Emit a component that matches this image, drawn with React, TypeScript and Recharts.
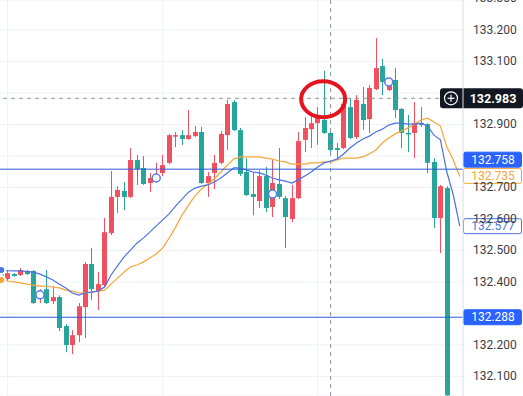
import React from "react";
import {
  ComposedChart,
  Bar,
  Line,
  XAxis,
  YAxis,
  CartesianGrid,
  ReferenceLine,
  ReferenceDot,
} from "recharts";

// candle prices, one per bar (last two bars are off-screen)
const opens = [
  132.431, 132.409, 132.425, 132.422, 132.435, 132.435, 132.352, 132.377, 132.339, 132.352,
  132.26, 132.2, 132.231, 132.32, 132.457, 132.371, 132.39, 132.555, 132.67, 132.689,
  132.67, 132.787, 132.762, 132.714, 132.724, 132.746, 132.778, 132.863, 132.866, 132.854,
  132.863, 132.876, 132.714, 132.746, 132.778, 132.866, 132.971, 132.882, 132.749, 132.679,
  132.657, 132.736, 132.638, 132.711, 132.666, 132.6, 132.666, 132.851, 132.885, 132.904,
  132.914, 132.873, 132.825, 132.825, 132.955, 132.86, 132.965, 132.917, 133.012, 133.085,
  133.009, 133.041, 132.949, 132.873, 132.873, 132.904, 132.901, 132.781, 132.603, 132.698,
  null, null,
];
const highs = [
  132.438, 132.435, 132.428, 132.444, 132.438, 132.438, 132.377, 132.438, 132.387, 132.358,
  132.266, 132.247, 132.333, 132.463, 132.508, 132.431, 132.603, 132.752, 132.704, 132.717,
  132.825, 132.803, 132.8, 132.746, 132.778, 132.803, 132.87, 132.876, 132.882, 132.946,
  132.895, 132.892, 132.749, 132.803, 132.879, 132.978, 132.978, 132.889, 132.793, 132.749,
  132.755, 132.765, 132.787, 132.825, 132.673, 132.708, 132.876, 132.924, 132.936, 132.955,
  133.07, 132.876, 132.841, 132.971, 132.984, 132.993, 133.019, 133.025, 133.174, 133.108,
  133.035, 133.079, 132.952, 132.93, 132.971, 132.955, 132.904, 132.793, 132.708, 132.704,
  null, null,
];
const lows = [
  132.39, 132.403, 132.416, 132.419, 132.422, 132.33, 132.333, 132.33, 132.33, 132.244,
  132.177, 132.171, 132.209, 132.222, 132.343, 132.311, 132.384, 132.549, 132.619, 132.628,
  132.666, 132.708, 132.708, 132.685, 132.717, 132.736, 132.774, 132.828, 132.835, 132.851,
  132.86, 132.711, 132.67, 132.695, 132.774, 132.819, 132.879, 132.736, 132.673, 132.612,
  132.635, 132.622, 132.606, 132.663, 132.508, 132.59, 132.663, 132.812, 132.825, 132.835,
  132.87, 132.803, 132.793, 132.822, 132.854, 132.854, 132.883, 132.873, 133.009, 132.993,
  133.006, 132.92, 132.825, 132.812, 132.793, 132.892, 132.746, 132.571, 132.492, 132.039,
  null, null,
];
const closes = [
  132.397, 132.428, 132.419, 132.438, 132.425, 132.333, 132.365, 132.333, 132.352, 132.254,
  132.2, 132.231, 132.323, 132.457, 132.377, 132.393, 132.558, 132.67, 132.692, 132.67,
  132.787, 132.758, 132.711, 132.73, 132.736, 132.771, 132.866, 132.866, 132.854, 132.866,
  132.876, 132.714, 132.736, 132.778, 132.87, 132.965, 132.882, 132.743, 132.676, 132.67,
  132.736, 132.635, 132.714, 132.67, 132.606, 132.666, 132.847, 132.889, 132.904, 132.924,
  132.873, 132.819, 132.819, 132.965, 132.857, 132.978, 132.914, 133.016, 133.079, 133.035,
  133.028, 132.946, 132.873, 132.87, 132.904, 132.898, 132.778, 132.603, 132.704, 132.04,
  null, null,
];

// moving averages
const maFast = [
  132.438, 132.436, 132.435, 132.435, 132.433, 132.431, 132.425, 132.416, 132.406, 132.393,
  132.381, 132.365, 132.358, 132.365, 132.368, 132.371, 132.384, 132.422, 132.451, 132.479,
  132.501, 132.523, 132.539, 132.558, 132.578, 132.597, 132.616, 132.641, 132.663, 132.685,
  132.698, 132.704, 132.708, 132.717, 132.73, 132.746, 132.762, 132.762, 132.755, 132.749,
  132.746, 132.739, 132.73, 132.724, 132.72, 132.714, 132.724, 132.736, 132.749, 132.765,
  132.778, 132.784, 132.79, 132.806, 132.825, 132.841, 132.854, 132.863, 132.876, 132.885,
  132.898, 132.904, 132.904, 132.901, 132.901, 132.904, 132.895, 132.866, 132.851, 132.749,
  132.676, 132.577,
];
const maSlow = [
  132.406, 132.403, 132.4, 132.397, 132.393, 132.39, 132.387, 132.387, 132.384, 132.381,
  132.374, 132.371, 132.365, 132.365, 132.368, 132.371, 132.374, 132.393, 132.412, 132.431,
  132.447, 132.454, 132.463, 132.476, 132.489, 132.508, 132.539, 132.574, 132.612, 132.644,
  132.673, 132.695, 132.711, 132.727, 132.749, 132.771, 132.79, 132.797, 132.797, 132.797,
  132.797, 132.793, 132.79, 132.784, 132.781, 132.774, 132.774, 132.774, 132.778, 132.778,
  132.781, 132.781, 132.787, 132.793, 132.793, 132.793, 132.797, 132.806, 132.819, 132.841,
  132.857, 132.87, 132.879, 132.889, 132.901, 132.914, 132.92, 132.908, 132.895, 132.828,
  132.787, 132.735,
];

const priceTicks = [132.1, 132.2, 132.3, 132.4, 132.5, 132.6, 132.7, 132.8, 132.9, 133.0, 133.1, 133.2, 133.3];
const coveredTicks = [132.3, 132.8, 133.0];

const hLines = [132.758, 132.288];
const crossPrice = 132.983;
const crossBar = 51;
const circledBar = 50;

const markBars = [6, 24, 42, 60];
const markPrices = [132.359, 132.73, 132.679, 133.035];

const UP = "#EF5160";
const DOWN = "#26A69A";
const BLUE = "#2F5BD6";
const FAST = "#4C72E6";
const SLOW = "#F5A63A";
const FONT = "Roboto, 'Liberation Sans', sans-serif";

const data = opens.map((o, i) => ({
  i,
  open: o,
  high: highs[i],
  low: lows[i],
  close: closes[i],
  fast: maFast[i],
  slow: maSlow[i],
}));

const Candle = (props: any) => {
  const { x, y, width, height, payload } = props;
  if (payload == null || payload.high == null) return null;
  const top = Math.min(y, y + height);
  const h = Math.abs(height);
  const span = payload.high - payload.low || 1;
  const toY = (v: number) => top + ((payload.high - v) / span) * h;
  const up = payload.close >= payload.open;
  const color = up ? UP : DOWN;
  const cx = Math.round(x + width / 2);
  const bTop = toY(Math.max(payload.open, payload.close));
  const bBot = toY(Math.min(payload.open, payload.close));
  return (
    <g>
      <rect x={cx} y={top} width={1} height={h} fill={color} />
      <rect
        x={cx - 2}
        y={bTop}
        width={5}
        height={Math.max(1.5, bBot - bTop)}
        fill={color}
      />
    </g>
  );
};

const PriceTick = (props: any) => {
  const { x, y, payload } = props;
  if (coveredTicks.some((t) => Math.abs(t - payload.value) < 1e-6)) return <g />;
  return (
    <text
      x={x + 2}
      y={y}
      dy={4}
      fontSize={12}
      fontFamily={FONT}
      fill="#3b3e46"
    >
      {payload.value.toFixed(3)}
    </text>
  );
};

const PriceBox = ({ viewBox, text, bg, border, color, dy = 0 }: any) => {
  if (!viewBox) return null;
  const left = viewBox.x + viewBox.width;
  const cy = viewBox.y + dy;
  return (
    <g>
      <rect
        x={left + 0.5}
        y={cy - 7.5}
        width={58}
        height={15}
        rx={2}
        fill={bg}
        stroke={border || bg}
      />
      <text
        x={left + 30}
        y={cy}
        dy={4}
        textAnchor="middle"
        fontSize={12}
        fontFamily={FONT}
        fill={color}
      >
        {text}
      </text>
    </g>
  );
};

const CrossBox = ({ viewBox }: any) => {
  if (!viewBox) return null;
  const right = viewBox.x + viewBox.width;
  const cy = viewBox.y;
  return (
    <g>
      <rect x={right - 23} y={cy - 10} width={83} height={20} rx={3} fill="#131722" />
      <circle cx={right - 12} cy={cy} r={6.5} fill="none" stroke="#fff" strokeWidth={1.2} />
      <line x1={right - 15.5} x2={right - 8.5} y1={cy} y2={cy} stroke="#fff" strokeWidth={1.2} />
      <line x1={right - 12} x2={right - 12} y1={cy - 3.5} y2={cy + 3.5} stroke="#fff" strokeWidth={1.2} />
      <text
        x={right + 30}
        y={cy}
        dy={4.5}
        textAnchor="middle"
        fontSize={12.5}
        fontWeight="bold"
        fontFamily={FONT}
        fill="#fff"
      >
        {crossPrice.toFixed(3)}
      </text>
    </g>
  );
};

export default function App() {
  return (
    <div
      style={{
        position: "absolute",
        left: 0,
        top: 0,
        width: 523,
        height: 396,
        background: "#fff",
        overflow: "hidden",
      }}
    >
      <ComposedChart
        width={523}
        height={396}
        data={data}
        margin={{ top: 0, right: 0, left: -2, bottom: 0 }}
        barCategoryGap={0}
      >
        <CartesianGrid stroke="#EFF1F6" strokeWidth={1} />
        <XAxis dataKey="i" type="category" hide ticks={[1, 25, 49]} />
        <YAxis
          orientation="right"
          width={60}
          domain={[132.038, 133.295]}
          allowDataOverflow
          ticks={priceTicks}
          interval={0}
          tick={<PriceTick />}
          tickLine={false}
          axisLine={{ stroke: "#E0E3EB" }}
        />
        <Bar
          dataKey={(d: any) => (d.high == null ? null : [d.low, d.high])}
          shape={<Candle />}
          isAnimationActive={false}
        />
        <Line
          type="linear"
          dataKey="slow"
          stroke={SLOW}
          strokeWidth={1.2}
          dot={false}
          isAnimationActive={false}
        />
        <Line
          type="linear"
          dataKey="fast"
          stroke={FAST}
          strokeWidth={1.2}
          dot={false}
          isAnimationActive={false}
        />
        <ReferenceLine x={crossBar} stroke="#8C8F99" strokeDasharray="4 4" />
        <ReferenceLine
          y={hLines[0]}
          stroke={BLUE}
          label={<PriceBox text={hLines[0].toFixed(3)} bg="#2962FF" color="#fff" dy={-9.5} />}
        />
        <ReferenceLine
          y={hLines[1]}
          stroke={BLUE}
          label={<PriceBox text={hLines[1].toFixed(3)} bg="#2962FF" color="#fff" />}
        />
        <ReferenceLine
          y={maSlow[maSlow.length - 1]}
          stroke="none"
          label={
            <PriceBox
              text={maSlow[maSlow.length - 1].toFixed(3)}
              bg="#fff"
              border={SLOW}
              color={SLOW}
              dy={-0.5}
            />
          }
        />
        <ReferenceLine
          y={maFast[maFast.length - 1]}
          stroke="none"
          label={
            <PriceBox
              text={maFast[maFast.length - 1].toFixed(3)}
              bg="#fff"
              border={FAST}
              color={FAST}
            />
          }
        />
        {markBars.map((b, k) => (
          <ReferenceDot
            key={b}
            x={b}
            y={markPrices[k]}
            r={4}
            fill="#fff"
            stroke="#5B7BE8"
            strokeWidth={1.5}
          />
        ))}
        <ReferenceLine
          y={crossPrice}
          stroke="#8C8F99"
          strokeDasharray="4 4"
          label={<CrossBox />}
        />
        <ReferenceDot
          x={circledBar}
          y={crossPrice}
          shape={(p: any) => (
            <ellipse
              cx={p.cx - 1}
              cy={p.cy + 1}
              rx={22}
              ry={18}
              fill="none"
              stroke="#E3151F"
              strokeWidth={4}
            />
          )}
        />
      </ComposedChart>
    </div>
  );
}
